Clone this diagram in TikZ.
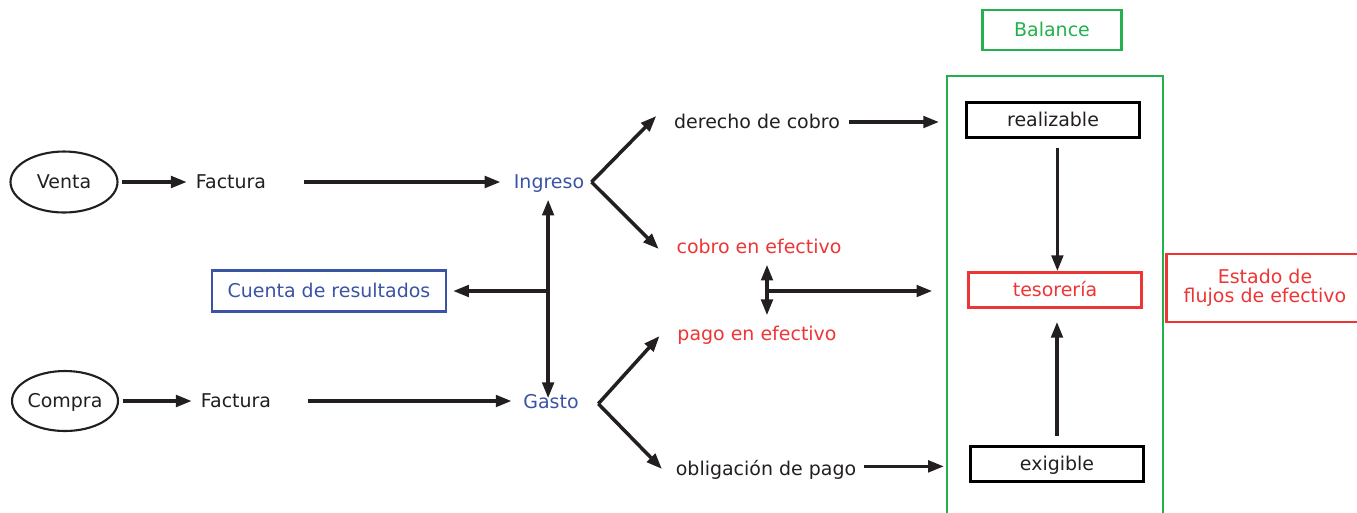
\documentclass[tikz,border=0pt]{standalone}
\usepackage{fontspec}
\setmainfont{DejaVu Sans}
\usetikzlibrary{arrows.meta,shapes.geometric}
\definecolor{resblue}{HTML}{3A53A4}
\definecolor{cashred}{HTML}{EE3535}
\definecolor{balgreen}{HTML}{22B14C}
\definecolor{ink}{HTML}{231F20}
\begin{document}
\begin{tikzpicture}[x=0.02cm,y=-0.02cm,>={Triangle[length=9pt,width=6.5pt]},
  txt/.style={inner sep=2pt,text height=0.73em,text depth=0pt,text=ink,
    font=\fontsize{10.8}{13}\selectfont},
  flow/.style={line width=2pt,draw=ink},
  oval/.style={txt,ellipse,inner sep=0pt,draw=ink,line width=1.2pt,minimum width=2.14cm,minimum height=1.22cm},
  acct/.style={txt,draw,line width=1.5pt,minimum width=3.45cm,minimum height=0.7cm}]
  \useasboundingbox (0,0) rectangle (1357,512);

  % left part: documents
  \node[oval] (venta) at (64,182) {Venta};
  \node[txt] (factV) at (231,182) {Factura};
  \node[txt,text=resblue] (ingreso) at (549,182) {Ingreso};
  \node[oval,minimum width=2.12cm,minimum height=1.2cm] (compra) at (65,401) {Compra};
  \node[txt] (factC) at (236,401) {Factura};
  \node[txt,text=resblue] (gasto) at (551,402) {Gasto};
  \node[txt,text=resblue,draw=resblue,line width=1.3pt,minimum width=4.68cm,minimum height=0.82cm]
    (cuenta) at (329,291) {Cuenta de resultados};

  % middle part
  \node[txt] (derecho) at (757,122) {derecho de cobro};
  \node[txt,text=cashred] (cobro) at (759,247) {cobro en efectivo};
  \node[txt,text=cashred] (pago) at (757,334) {pago en efectivo};
  \node[txt] (oblig) at (766,469) {obligación de pago};
  \coordinate (caja) at (767,291);

  % balance
  \node[txt,text=balgreen,draw=balgreen,line width=1.3pt,minimum width=2.78cm,minimum height=0.8cm]
    (balance) at (1052,30) {Balance};
  \draw[balgreen,line width=1.3pt] (947,76) rectangle (1163,540);
  \node[acct] (realizable) at (1053,120) {realizable};
  \node[acct,draw=cashred,text=cashred] (tesoreria) at (1055,290) {tesorería};
  \node[acct] (exigible) at (1057,464) {exigible};
  \node[txt,text=cashred,draw=cashred,line width=1.4pt,align=center,text height=,text depth=,
    font=\fontsize{10.8}{10.8}\selectfont,minimum width=3.94cm,minimum height=1.36cm]
    (estado) at (1265,288) {Estado de\\flujos de efectivo};

  % arrows
  \draw[flow,->,shorten <=2pt,shorten >=3pt] (venta) -- (factV);
  \draw[flow,->,shorten <=19.5pt,shorten >=5.4pt] (factV) -- (ingreso);
  \draw[flow,->,shorten <=2pt,shorten >=3pt] (compra) -- (factC);
  \draw[flow,->,shorten <=19pt,shorten >=4.5pt] (factC) -- (factC -| gasto.west);
  \draw[flow,<->,shorten <=4.2pt,shorten >=-3.7pt] ([xshift=-0.5pt]ingreso.south) -- ([xshift=-0.5pt]ingreso.south |- gasto.north);
  \draw[flow,->,shorten >=3.4pt] ([xshift=-0.5pt]ingreso.south |- cuenta.east) -- (cuenta.east);

  \draw[flow,->] ([xshift=2pt]ingreso.east) -- ([shift={(-14,-6)}]derecho.west);
  \draw[flow,->] ([xshift=2pt]ingreso.east) -- ([shift={(-14,2)}]cobro.west);
  \draw[flow,->] ([shift={(9pt,-1pt)}]gasto.east) -- ([shift={(-14,2)}]pago.west);
  \draw[flow,->] ([shift={(9pt,-1pt)}]gasto.east) -- ([shift={(-10,0)}]oblig.west);

  \draw[flow,->,shorten <=3pt,shorten >=15pt] (derecho.east) -- (derecho.east -| realizable.west);
  \draw[flow,<->,shorten <=4.2pt,shorten >=4.8pt] (cobro.south -| caja) -- (pago.north -| caja);
  \draw[flow,->,shorten >=20pt] (caja) -- (caja -| tesoreria.west);
  \draw[flow,->,shorten <=2pt,shorten >=14.5pt] ([yshift=1.5pt]oblig.east) -- ([yshift=1.5pt]oblig.east -| exigible.west);

  \draw[flow,->,shorten <=5pt] ([xshift=2.5pt]realizable.south) -- ([xshift=2.5pt]realizable.south |- tesoreria.north);
  \draw[flow,->,shorten <=5pt,shorten >=7.4pt] (exigible.north) -- (exigible.north |- tesoreria.south);
\end{tikzpicture}
\end{document}
